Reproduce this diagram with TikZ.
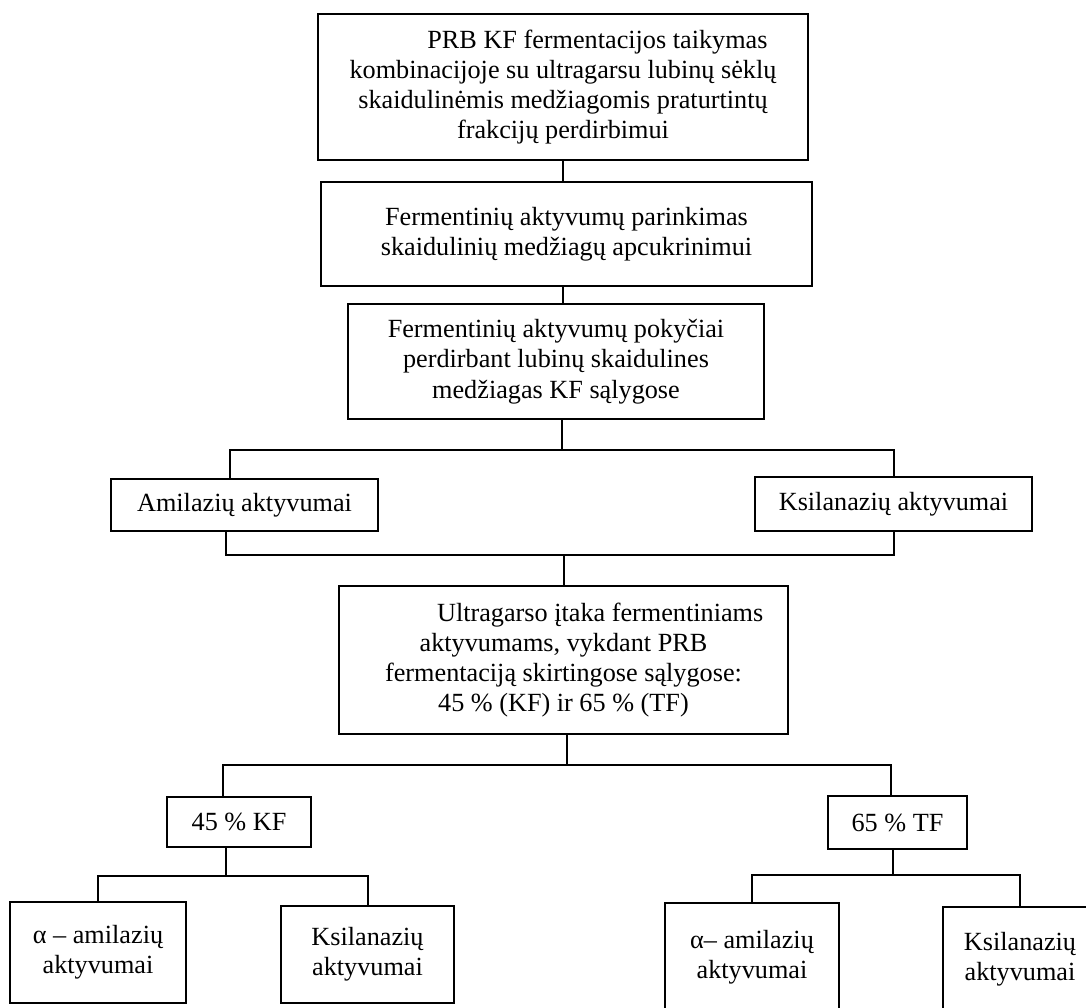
\documentclass[tikz,border=0pt]{standalone}
\usepackage{fontspec}
\setmainfont{Liberation Serif}
\usepackage{tikz}

\tikzset{
  stagebox/.style={draw, line width=1pt, align=center, inner sep=0pt,
    font=\fontsize{11.8pt}{13.6pt}\selectfont},
  link/.style={line width=0.9pt}
}

\begin{document}
\begin{tikzpicture}[x=0.45pt, y=-0.45pt]
  \useasboundingbox (0,0) rectangle (1086,1008);

  % Main chain
  \node[stagebox, minimum width=490*0.45pt, minimum height=146*0.45pt] (top) at (563, 87)
    {\hspace*{31pt}PRB KF fermentacijos taikymas\\kombinacijoje su ultragarsu lubinų sėklų\\skaidulinėmis medžiagomis praturtintų\\frakcijų perdirbimui};
  \node[stagebox, minimum width=491*0.45pt, minimum height=104*0.45pt] (sel) at (566.5, 234)
    {Fermentinių aktyvumų parinkimas\\skaidulinių medžiagų apcukrinimui};
  \node[stagebox, minimum width=416*0.45pt, minimum height=115*0.45pt] (chg) at (556, 361.5)
    {Fermentinių aktyvumų pokyčiai\\perdirbant lubinų skaidulines\\medžiagas KF sąlygose};

  % Enzyme groups
  \node[stagebox, minimum width=267*0.45pt, minimum height=52*0.45pt] (amil) at (244.5, 505) {Amilazių aktyvumai};
  \node[stagebox, minimum width=277*0.45pt, minimum height=54*0.45pt] (ksil) at (893.5, 504) {Ksilanazių aktyvumai};

  % Ultrasound box
  \node[stagebox, minimum width=449*0.45pt, minimum height=148*0.45pt] (ultra) at (563.5, 660)
    {\hspace*{33pt}Ultragarso įtaka fermentiniams\\aktyvumams, vykdant PRB\\fermentaciją skirtingose sąlygose:\\45 \% (KF) ir 65 \% (TF)};

  % Conditions
  \node[stagebox, minimum width=144*0.45pt, minimum height=50*0.45pt] (kf) at (239, 822) {45 \% KF};
  \node[stagebox, minimum width=139*0.45pt, minimum height=53*0.45pt] (tf) at (897.5, 822.5) {65 \% TF};

  % Bottom row
  \node[stagebox, minimum width=176*0.45pt, minimum height=101*0.45pt] (amkf) at (98, 952.5) {α – amilazių\\aktyvumai};
  \node[stagebox, minimum width=173*0.45pt, minimum height=97*0.45pt] (kskf) at (367.5, 954.5) {Ksilanazių\\aktyvumai};
  \node[stagebox, minimum width=174*0.45pt, minimum height=109*0.45pt] (amtf) at (752, 957.5) {α– amilazių\\aktyvumai};
  \node[stagebox, minimum width=154*0.45pt, minimum height=105*0.45pt] (kstf) at (1020, 959.5) {Ksilanazių\\aktyvumai};

  % Junction points
  \coordinate (busA-l) at (230, 450);
  \coordinate (busA-m) at (562, 450);
  \coordinate (busB-l) at (226, 555);
  \coordinate (busB-r) at (894, 555);
  \coordinate (busC-l) at (223, 765);
  \coordinate (busC-m) at (567, 765);
  \coordinate (busC-r) at (891, 765);
  \coordinate (busD-m) at (226, 876);
  \coordinate (busE-m) at (893, 875);

  % Connectors
  \draw[link] (top.south) -- (top.south |- sel.north);
  \draw[link] (top.south |- sel.south) -- (top.south |- chg.north);
  \draw[link] (chg.south -| busA-m) -- (busA-m);
  \draw[link] (amil.north -| busA-l) -- (busA-l) -| (ksil.north);
  \draw[link] (amil.south -| busB-l) -- (busB-l) -- (busB-r) -- (ksil.south -| busB-r);
  \draw[link] (busB-l -| ultra.north) -- (ultra.north);
  \draw[link] (ultra.south -| busC-m) -- (busC-m);
  \draw[link] (kf.north -| busC-l) -- (busC-l) -- (busC-r) -- (tf.north -| busC-r);
  \draw[link] (kf.south -| busD-m) -- (busD-m);
  \draw[link] (amkf.north) |- (busD-m) -| (kskf.north);
  \draw[link] (tf.south -| busE-m) -- (busE-m);
  \draw[link] (amtf.north) |- (busE-m) -| (kstf.north);
\end{tikzpicture}
\end{document}
